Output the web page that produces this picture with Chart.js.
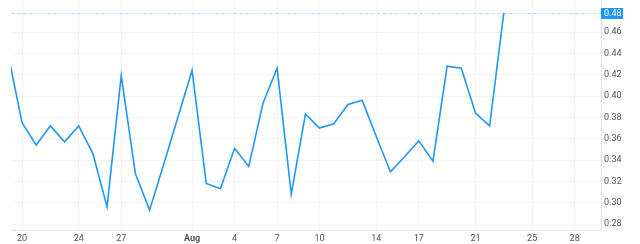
<!DOCTYPE html>
<html>
<head>
<meta charset="utf-8">
<script src="https://cdn.jsdelivr.net/npm/chart.js@4/dist/chart.umd.min.js"></script>
<style>
  html, body { margin: 0; padding: 0; background: #fff; }
  #wrap { width: 640px; height: 244px; }
</style>
</head>
<body>
<div id="wrap"><canvas id="chart" width="640" height="244"></canvas></div>
<script>
// day of period (1 = Jul 1, 32 = Aug 1)
var days = [19, 20, 21, 22, 23, 24, 25, 26, 27, 28, 29, 30, 31,
            32, 33, 34, 35, 36, 37, 38, 39, 40, 41, 42, 43, 44, 45, 46, 47, 48, 49, 50, 51, 52, 53, 54];
var values = [0.440, 0.375, 0.354, 0.372, 0.357, 0.372, 0.346, 0.296, 0.419, 0.327, 0.293, 0.336, 0.380,
              0.424, 0.318, 0.313, 0.351, 0.334, 0.393, 0.426, 0.308, 0.383, 0.370, 0.374, 0.392, 0.396,
              0.362, 0.329, 0.343, 0.358, 0.339, 0.428, 0.426, 0.384, 0.372, 0.478];
var xTickDays = [20, 24, 27, 32, 35, 38, 41, 45, 48, 52, 56, 59];
var xTickLabels = ['20', '24', '27', 'Aug', '4', '7', '10', '14', '17', '21', '25', '28'];
var yTicks = [0.28, 0.30, 0.32, 0.34, 0.36, 0.38, 0.40, 0.42, 0.44, 0.46, 0.48];
var lastLabel = '0.48';

var lineColor = '#2196f3';
var gridColor = '#f0f3fa';
var textColor = '#50535e';

var points = days.map(function(d, i){ return {x: d, y: values[i]}; });

function noPad(scale){
    scale.paddingTop = 0;
    scale.paddingBottom = 0;
    scale.paddingLeft = 0;
    scale.paddingRight = 0;
}

var lastPrice = {
    id: 'lastPrice',
    afterDatasetsDraw: function(chart){
        var ctx = chart.ctx, area = chart.chartArea;
        var y = Math.round(chart.scales.y.getPixelForValue(values[values.length - 1])) + 0.5;
        ctx.save();
        ctx.strokeStyle = 'rgba(33,150,243,0.35)';
        ctx.lineWidth = 1;
        ctx.setLineDash([4, 2]);
        ctx.beginPath();
        ctx.moveTo(area.left, y);
        ctx.lineTo(area.right, y);
        ctx.stroke();
        ctx.setLineDash([]);
        ctx.fillStyle = lineColor;
        ctx.fillRect(area.right, y - 5.5, 22, 11);
        ctx.fillStyle = '#fff';
        ctx.font = '9px Roboto';
        ctx.textBaseline = 'middle';
        ctx.fillText(lastLabel, area.right + 3, y);
        ctx.restore();
    }
};

new Chart(document.getElementById('chart'), {
    type: 'line',
    data: {
        datasets: [{
            data: points,
            borderColor: lineColor,
            borderWidth: 1.6,
            pointRadius: 0,
            tension: 0,
            fill: false
        }]
    },
    options: {
        responsive: false,
        animation: false,
        devicePixelRatio: 1,
        layout: { padding: { left: 11, top: 0, right: 0, bottom: 0 } },
        plugins: { legend: { display: false }, tooltip: { enabled: false } },
        scales: {
            x: {
                type: 'linear',
                min: 19.22,
                max: 60.86,
                afterBuildTicks: function(scale){
                    scale.ticks = xTickDays.map(function(v){ return {value: v}; });
                },
                afterFit: function(scale){ scale.height = 14; noPad(scale); },
                grid: { color: gridColor, drawTicks: false },
                border: { display: true, color: '#e0e3eb' },
                ticks: {
                    padding: 3,
                    maxRotation: 0,
                    autoSkip: false,
                    color: textColor,
                    font: function(c){
                        var i = xTickDays.indexOf(c.tick ? c.tick.value : -1);
                        return { family: 'Roboto', size: 9, weight: xTickLabels[i] === 'Aug' ? 'bold' : 'normal' };
                    },
                    callback: function(v){
                        var i = xTickDays.indexOf(v);
                        return i >= 0 ? xTickLabels[i] : '';
                    }
                }
            },
            y: {
                position: 'right',
                min: 0.2744,
                max: 0.49,
                afterBuildTicks: function(scale){
                    scale.ticks = yTicks.map(function(v){ return {value: v}; });
                },
                afterFit: function(scale){ scale.width = 39; noPad(scale); },
                grid: { color: gridColor, drawTicks: false },
                border: { display: true, color: '#e0e3eb' },
                ticks: {
                    padding: 3,
                    color: textColor,
                    font: { family: 'Roboto', size: 9 },
                    callback: function(v){
                        // top tick is covered by the last-price label
                        return v.toFixed(2) === lastLabel ? '' : v.toFixed(2);
                    }
                }
            }
        }
    },
    plugins: [lastPrice]
});
</script>
</body>
</html>
